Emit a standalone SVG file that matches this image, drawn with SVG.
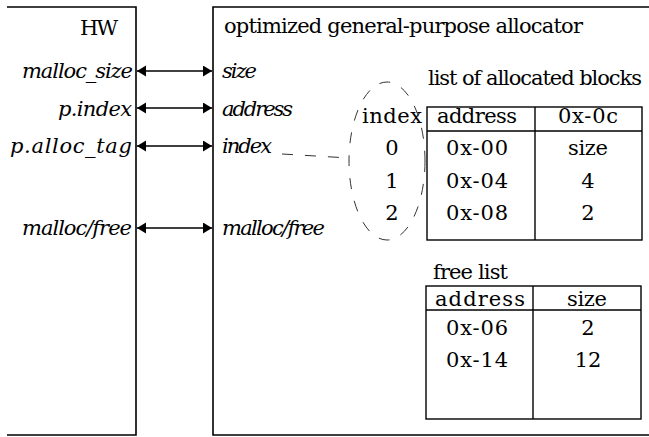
<svg xmlns="http://www.w3.org/2000/svg" width="649" height="437" viewBox="0 0 649 437">
  <style>
    text { font-family: "DejaVu Serif", "Liberation Serif", serif; font-size: 21px; fill: #000; }
    .it { font-style: italic; }
    .end { text-anchor: end; }
    .mid { text-anchor: middle; }
    .frame { fill: none; stroke: #000; stroke-width: 1.6; }
    .grid { fill: none; stroke: #000; stroke-width: 1.4; }
    .link { fill: none; stroke: #000; stroke-width: 1.5; marker-start: url(#head); marker-end: url(#head); }
    .dash { fill: none; stroke: #333; stroke-width: 1; stroke-dasharray: 11 12; }
  </style>
  <defs>
    <marker id="head" markerUnits="userSpaceOnUse" markerWidth="10" markerHeight="12" refX="9" refY="5.5" orient="auto-start-reverse">
      <path d="M0,0 L9,5.5 L0,11 Z" fill="#000"/>
    </marker>
  </defs>
  <rect width="649" height="437" fill="#fff"/>

  <!-- hardware side -->
  <g id="hw">
    <path class="frame" d="M7,7 H136 V435 H7"/>
    <text x="118" y="35" class="end" textLength="38">HW</text>
    <text x="133" y="78" class="it end" textLength="111">malloc_size</text>
    <text x="132" y="116" class="it end" textLength="74">p.index</text>
    <text x="132" y="153" class="it end" textLength="122">p.alloc_tag</text>
    <text x="132" y="235" class="it end" textLength="110">malloc/free</text>
  </g>

  <!-- allocator side -->
  <g id="allocator">
    <path class="frame" d="M649,7 H213 V435 H649"/>
    <text x="224" y="33" textLength="359">optimized general-purpose allocator</text>
    <text x="222" y="78" class="it" textLength="35">size</text>
    <text x="222" y="116" class="it" textLength="71">address</text>
    <text x="222" y="153" class="it" textLength="50">index</text>
    <text x="222" y="235" class="it" textLength="103">malloc/free</text>
  </g>

  <!-- index column -->
  <g id="index-column">
    <text x="392" y="123" class="mid" textLength="60">index</text>
    <text x="392" y="155" class="mid">0</text>
    <text x="392" y="188" class="mid">1</text>
    <text x="392" y="220" class="mid">2</text>
  </g>

  <!-- allocated blocks table -->
  <g id="allocated-blocks">
    <text x="428" y="85" textLength="214">list of allocated blocks</text>
    <rect class="grid" x="427" y="107" width="215" height="133"/>
    <line class="grid" x1="427" y1="131" x2="642" y2="131"/>
    <line class="grid" x1="535" y1="107" x2="535" y2="240"/>
    <text x="477" y="123" class="mid" textLength="80">address</text>
    <text x="588" y="123" class="mid" textLength="60">0x-0c</text>
    <text x="477" y="155" class="mid" textLength="62">0x-00</text>
    <text x="588" y="155" class="mid" textLength="40">size</text>
    <text x="477" y="188" class="mid" textLength="62">0x-04</text>
    <text x="588" y="188" class="mid">4</text>
    <text x="477" y="220" class="mid" textLength="62">0x-08</text>
    <text x="588" y="220" class="mid">2</text>
  </g>

  <!-- free list table -->
  <g id="free-list">
    <text x="433" y="279" textLength="75">free list</text>
    <rect class="grid" x="426" y="286" width="215" height="133"/>
    <line class="grid" x1="426" y1="310" x2="641" y2="310"/>
    <line class="grid" x1="533" y1="286" x2="533" y2="419"/>
    <text x="480" y="306" class="mid" textLength="90">address</text>
    <text x="587" y="306" class="mid" textLength="40">size</text>
    <text x="477" y="335" class="mid" textLength="62">0x-06</text>
    <text x="588" y="335" class="mid">2</text>
    <text x="477" y="367" class="mid" textLength="62">0x-14</text>
    <text x="588" y="367" class="mid">12</text>
  </g>

  <!-- signal connectors and the index grouping -->
  <g id="connectors">
    <line class="link" x1="137" y1="71" x2="212" y2="71"/>
    <line class="link" x1="137" y1="108" x2="212" y2="108"/>
    <line class="link" x1="137" y1="146" x2="212" y2="146"/>
    <line class="link" x1="137" y1="228" x2="212" y2="228"/>
    <line class="dash" x1="282" y1="154" x2="349" y2="158"/>
    <ellipse class="dash" cx="387" cy="161" rx="38" ry="79"/>
  </g>
</svg>
